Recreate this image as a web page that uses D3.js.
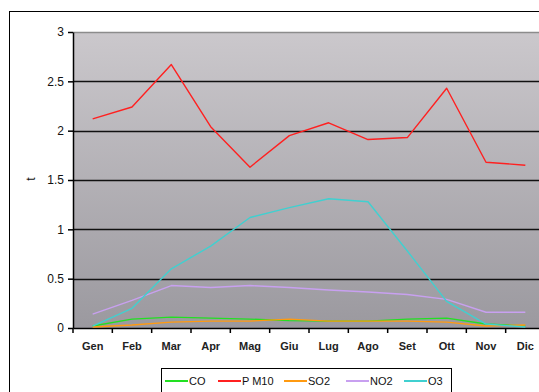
<!DOCTYPE html>
<html>
<head>
<meta charset="utf-8">
<script src="https://cdn.jsdelivr.net/npm/d3@7"></script>
<style>
  html, body { margin: 0; padding: 0; background: #fff; }
  svg { display: block; font-family: "Liberation Sans", Arial, sans-serif; }
</style>
</head>
<body>
<svg id="chart" width="539" height="392"></svg>
<script>
// Monthly emissions (t) per pollutant
const months = ["Gen", "Feb", "Mar", "Apr", "Mag", "Giu", "Lug", "Ago", "Set", "Ott", "Nov", "Dic"];
const co   = [0.02, 0.09, 0.11, 0.10, 0.09, 0.075, 0.07, 0.07, 0.09, 0.10, 0.04, 0.02];
const pm10 = [2.12, 2.24, 2.67, 2.04, 1.63, 1.95, 2.08, 1.91, 1.93, 2.43, 1.68, 1.65];
const so2  = [0.01, 0.03, 0.06, 0.07, 0.07, 0.09, 0.07, 0.07, 0.07, 0.06, 0.02, 0.03];
const no2  = [0.14, 0.28, 0.43, 0.41, 0.43, 0.41, 0.385, 0.365, 0.34, 0.29, 0.16, 0.16];
const o3   = [0.02, 0.20, 0.60, 0.83, 1.12, 1.22, 1.31, 1.28, 0.78, 0.27, 0.04, 0.01];
const yTicks = [0, 0.5, 1, 1.5, 2, 2.5, 3];
const seriesNames = ["CO", "P M10", "SO2", "NO2", "O3"];
const seriesColors = ["#22e022", "#ff2020", "#ff9a10", "#c8a0f0", "#40d0d0"];
const seriesValues = [co, pm10, so2, no2, o3];

const svg = d3.select("#chart");

// outer chart frame
svg.append("rect")
  .attr("x", 9.5).attr("y", 11.5)
  .attr("width", 560).attr("height", 400)
  .attr("fill", "#fff").attr("stroke", "#000").attr("stroke-width", 1);

const plot = { left: 73, top: 32, right: 545, bottom: 328 };

const x = d3.scaleBand().domain(months).range([plot.left, plot.right]);
const y = d3.scaleLinear().domain([0, 3]).range([plot.bottom, plot.top]);

// plot background gradient
const defs = svg.append("defs");
const grad = defs.append("linearGradient").attr("id", "bg")
  .attr("x1", 0).attr("y1", 0).attr("x2", 0).attr("y2", 1);
grad.append("stop").attr("offset", "0%").attr("stop-color", "#cbc8cc");
grad.append("stop").attr("offset", "100%").attr("stop-color", "#9b999f");

svg.append("rect")
  .attr("x", plot.left).attr("y", plot.top)
  .attr("width", plot.right - plot.left).attr("height", plot.bottom - plot.top)
  .attr("fill", "url(#bg)");

// top edge of the plot area
svg.append("line")
  .attr("x1", plot.left).attr("x2", plot.right)
  .attr("y1", plot.top + 0.5).attr("y2", plot.top + 0.5)
  .attr("stroke", "#8c8c8c").attr("stroke-width", 1.5);

// horizontal gridlines
svg.append("g").selectAll("line")
  .data(yTicks.filter(d => d > 0 && d < 3))
  .join("line")
  .attr("x1", plot.left).attr("x2", plot.right)
  .attr("y1", d => Math.round(y(d)) + 0.5).attr("y2", d => Math.round(y(d)) + 0.5)
  .attr("stroke", "#111").attr("stroke-width", 1.5);

// y axis
const yAxis = svg.append("g")
  .attr("transform", `translate(${plot.left},0)`)
  .call(d3.axisLeft(y).tickValues(yTicks).tickSize(5).tickSizeOuter(0).tickFormat(d3.format("")));
yAxis.select(".domain").attr("stroke", "#000").attr("stroke-width", 1.5);
yAxis.selectAll(".tick line").attr("stroke", "#000").attr("stroke-width", 1.5);
yAxis.selectAll(".tick text").attr("font-size", 12).attr("fill", "#111").attr("x", -9)
  .attr("font-family", "'Liberation Sans', Arial, sans-serif");

// x axis with ticks between categories
const xAxis = svg.append("g")
  .attr("transform", `translate(0,${plot.bottom})`)
  .call(d3.axisBottom(x).tickSize(0).tickSizeOuter(0));
xAxis.select(".domain").attr("stroke", "#000").attr("stroke-width", 1.5);
xAxis.selectAll(".tick text").attr("font-size", 11).attr("fill", "#222").attr("dy", "1.15em")
  .attr("font-weight", "bold").attr("y", 9)
  .attr("font-family", "'Liberation Sans', Arial, sans-serif");
xAxis.append("g").selectAll("line")
  .data(months)
  .join("line")
  .attr("x1", d => x(d)).attr("x2", d => x(d))
  .attr("y1", 0).attr("y2", 5)
  .attr("stroke", "#000").attr("stroke-width", 1.5);

// y axis title
svg.append("text")
  .attr("transform", "translate(35,179) rotate(-90)")
  .attr("text-anchor", "middle")
  .attr("font-size", 12)
  .attr("fill", "#111")
  .text("t");

// series lines
const line = d3.line()
  .x((d, i) => x(months[i]) + x.bandwidth() / 2)
  .y(d => y(d));

svg.append("g").selectAll("path")
  .data(seriesValues)
  .join("path")
  .attr("d", d => line(d))
  .attr("fill", "none")
  .attr("stroke", (d, i) => seriesColors[i])
  .attr("stroke-width", 1.4)
  .attr("stroke-linejoin", "round");

// legend
const legend = svg.append("g");
legend.append("rect")
  .attr("x", 161.5).attr("y", 368.5)
  .attr("width", 290).attr("height", 40)
  .attr("fill", "#fff").attr("stroke", "#000").attr("stroke-width", 1);

const legendX = [165, 218, 284, 346, 404];
const items = legend.selectAll("g.item")
  .data(seriesNames)
  .join("g")
  .attr("class", "item")
  .attr("transform", (d, i) => `translate(${legendX[i]},381)`);
items.append("line")
  .attr("x1", 0).attr("x2", 23)
  .attr("y1", 0).attr("y2", 0)
  .attr("stroke", (d, i) => seriesColors[i])
  .attr("stroke-width", 2);
items.append("text")
  .attr("x", 24).attr("y", 4)
  .attr("font-size", 11)
  .attr("fill", "#111")
  .text(d => d);
</script>
</body>
</html>
